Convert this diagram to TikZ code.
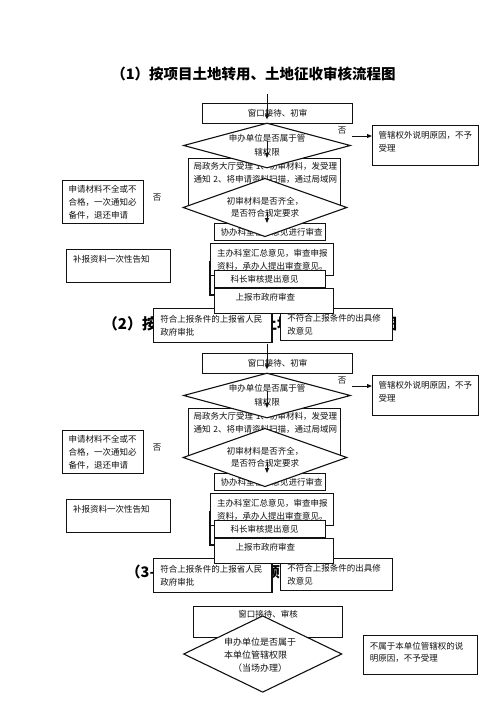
\documentclass[tikz,border=0pt]{standalone}
\usepackage{fontspec}
\setmainfont{Noto Sans CJK SC}
\usepackage{tikz}
\usetikzlibrary{arrows.meta,shapes.geometric}
\definecolor{INK}{HTML}{111111}

\begin{document}
\begin{tikzpicture}[
    x=1pt, y=-1pt,
    box/.style={draw=INK, fill=white, line width=1.1pt, anchor=north west,
      align=left, inner ysep=0pt, font=\fontsize{8.5}{12.8}\selectfont, text=INK},
    dia/.style={draw=INK, fill=white, line width=1.1pt, diamond, inner sep=0pt},
    lab/.style={font=\fontsize{8.5}{11.6}\selectfont, text=INK, align=center, inner sep=0pt},
    note/.style={font=\fontsize{8.5}{10}\selectfont, text=INK},
    headline/.style={font=\fontsize{14.5}{16}\selectfont\bfseries, text=black, inner sep=0pt},
    arr/.style={-{Triangle[length=5pt,width=4pt]}, line width=1pt, draw=INK},
  ]
  \useasboundingbox (0,0) rectangle (496,702);

  % titles
  \node[headline] (ttl1) at (253.5,74) {（1）按项目土地转用、土地征收审核流程图};
  \node[headline, font=\fontsize{15}{16}\selectfont\bfseries] (ttl2) at (250,324) {（2）按批次土地转用、土地征收审核流程图};
  \node[headline, anchor=west] (ttl3) at (126,572) {（3-1）建设项目用地预审流程图};

  % the same flow twice
  \foreach \dy/\k in {0/a, 250/b} {
    \begin{scope}[yshift=-\dy pt]
      \node[box, align=center, text width=150pt, inner xsep=0pt, minimum height=20pt] (win\k) at (202,103) {窗口接待、初审};
      \node[box, text width=142pt, inner xsep=5pt, minimum height=47pt, text depth=32.5pt] (acc\k) at (188,158)
        {\mbox{局政务大厅受理~1、初审材料，发受理}\\\mbox{通知~2、将申请资料扫描，通过局域网}};
      \node[box, text width=99pt, inner xsep=6pt, minimum height=17pt] (hlp\k) at (214,223) {协办科室征求意见进行审查};
      \node[dia, minimum width=167pt, minimum height=45pt] (qa\k) at (267,145.5) {};
      \node[lab, font=\fontsize{8.5}{14}\selectfont] (qat\k) at (267,145) {申办单位是否属于管\\辖权限};
      \node[dia, minimum width=164pt, minimum height=58.5pt] (qb\k) at (265,207.5) {};
      \node[lab] (qbt\k) at (265,207.5) {初审材料是否齐全，\\是否符合规定要求};

      \node[box, text width=94pt, inner xsep=6pt, minimum height=40pt, text depth=21.5pt] (out\k) at (372,125) {管辖权外说明原因，不予\\受理};
      \node[box, text width=69pt, inner xsep=6pt, minimum height=43pt] (rej\k) at (62,180) {申请材料不全或不\\合格，一次通知必\\备件，退还申请};
      \node[box, text width=91pt, inner xsep=6.5pt, minimum height=33pt, text depth=15pt] (sup\k) at (66,249) {补报资料一次性告知};

      \draw[draw=INK, fill=white, line width=1.1pt] (210,262) rectangle (320,295);
      \node[box, text width=110pt, inner xsep=6.5pt, minimum height=32pt] (lead\k) at (210,243) {主办科室汇总意见，审查申报\\资料，承办人提出审查意见。};
      \node[box, text width=79pt, inner xsep=16pt, minimum height=17pt] (chief\k) at (214,270) {科长审核提出意见};
      \node[box, text width=105pt, inner xsep=6.7pt, minimum height=34pt] (yes\k) at (153,308) {符合上报条件的上报省人民\\政府审批};
      \node[box, text width=98.6pt, inner xsep=6.7pt, minimum height=32pt] (fix\k) at (280,308) {不符合上报条件的出具修\\改意见};
      \node[box, text width=77pt, inner xsep=21pt, minimum height=25pt, text depth=8.5pt] (city\k) at (214,288) {上报市政府审查};

      % arrows and answers
      \coordinate (top\k) at (267,94);
      \coordinate (sel\k) at (267,141);
      \coordinate (mid\k) at (267,212);
      \coordinate (no\k) at (352,136);
      \draw[arr] (top\k) -- ([yshift=3pt]top\k |- qa\k.north);
      \draw[arr] (sel\k) -- (sel\k |- acc\k.north);
      \draw[arr] (mid\k) -- (mid\k |- hlp\k.north);
      \draw[arr] (no\k) -- (no\k -| out\k.west);
      \node[note] (nr\k) at (342,131) {否};
      \node[note] (nl\k) at (157,198) {否};
    \end{scope}
  }

  % third flow
  \node[box, align=center, text width=149.6pt, inner xsep=0pt, minimum height=31.6pt, text depth=15.5pt] (win3) at (192.7,605.7) {窗口接待、审核};
  \node[dia, minimum width=158.4pt, minimum height=76.6pt] (qc) at (262.7,654) {};
  \node[lab, align=left, font=\fontsize{9}{13.3}\selectfont] (qct) at (260,655) {申办单位是否属于\\本单位管辖权限\\\hspace*{1em}（当场办理）};
  \node[box, text width=102pt, inner xsep=6pt, minimum height=39pt, text depth=19pt] (nob) at (363.3,635) {不属于本单位管辖权的说\\明原因，不予受理};

\end{tikzpicture}
\end{document}
